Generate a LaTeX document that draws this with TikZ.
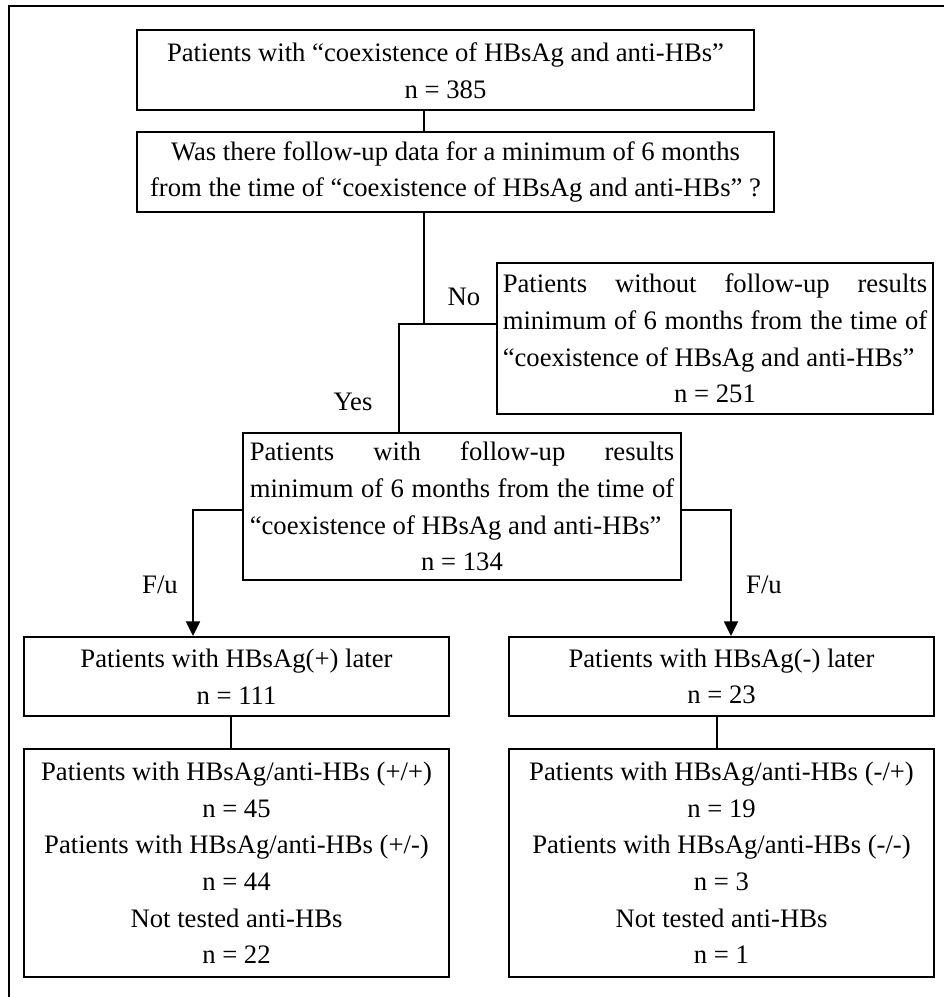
\documentclass[tikz,border=0pt]{standalone}
\usepackage{fontspec}
\setmainfont{Liberation Serif}
\usetikzlibrary{arrows.meta}

\newcommand{\spreadline}[1]{\makebox[\linewidth][s]{#1}}

\tikzset{
  flowbox/.style={draw, line width=0.9pt, inner sep=0pt, align=flush center,
    font=\fontsize{12}{16.5}\selectfont},
  fulltext/.style={text width=191pt, align=flush left},
  flowline/.style={line width=0.7pt},
  flowarrow/.style={line width=0.7pt, -{Triangle[length=6.6pt,width=6.3pt]}},
  flowlabel/.style={inner sep=0pt, font=\fontsize{12}{16.5}\selectfont}
}

\begin{document}
\begin{tikzpicture}[x=0.45pt,y=-0.45pt]
    \useasboundingbox (0,0) rectangle (944,997);
    \draw[line width=0.9pt] (9,997) -- (9,6) -- (944,6);

    \node[flowbox, minimum width=277.65pt, minimum height=36pt] (top) at (445.5,70.5)
        {Patients with “coexistence of HBsAg and anti-HBs”\\ n = 385};
    \node[flowbox, minimum width=286.65pt, minimum height=36pt] (ques) at (455.5,172)
        {Was there follow-up data for a minimum of 6 months\\ from the time of “coexistence of HBsAg and anti-HBs” ?};

    \node[flowbox, fulltext, minimum width=196.2pt, minimum height=67.95pt] (nofu) at (715,338.5)
        {\spreadline{Patients without follow-up results}\\
         \spreadline{minimum of 6 months from the time of}\\
         “coexistence of HBsAg and anti-HBs”\\
         \makebox[\linewidth]{n = 251}};
    \node[flowbox, fulltext, minimum width=197.1pt, minimum height=66.15pt] (fu) at (462,506.5)
        {\spreadline{Patients with follow-up results}\\
         \spreadline{minimum of 6 months from the time of}\\
         “coexistence of HBsAg and anti-HBs”\\
         \makebox[\linewidth]{n = 134}};

    \node[flowbox, minimum width=191.25pt, minimum height=35.55pt] (pos) at (236.5,676.5)
        {Patients with HBsAg(+) later\\ n = 111};
    \node[flowbox, minimum width=191.25pt, minimum height=35.55pt] (neg) at (721.5,676.5)
        {Patients with HBsAg(-) later\\ n = 23};

    \node[flowbox, minimum width=191.25pt, minimum height=102.6pt] (posres) at (236.5,863)
        {Patients with HBsAg/anti-HBs (+/+)\\ n = 45\\
         Patients with HBsAg/anti-HBs (+/-)\\ n = 44\\
         Not tested anti-HBs\\ n = 22};
    \node[flowbox, minimum width=191.25pt, minimum height=102.6pt] (negres) at (721.5,863)
        {Patients with HBsAg/anti-HBs (-/+)\\ n = 19\\
         Patients with HBsAg/anti-HBs (-/-)\\ n = 3\\
         Not tested anti-HBs\\ n = 1};

    \coordinate (split) at (424,324);
    \coordinate (yes) at (399,324);
    \coordinate (fuL) at (193,510);
    \coordinate (fuR) at (731,510);
    \coordinate (posdrop) at (231,730);
    \coordinate (negdrop) at (717,730);

    \draw[flowline] (top.south -| split) -- (ques.north -| split);
    \draw[flowline] (ques.south -| split) -- (split);
    \draw[flowline] (nofu.west |- split) -- (yes) -- (fu.north -| yes);
    \node[flowlabel] (nolab) at (464,297) {No};
    \node[flowlabel] (yeslab) at (353,402) {Yes};

    \draw[flowarrow] (fu.west |- fuL) -- (fuL) -- (pos.north -| fuL);
    \draw[flowarrow] (fu.east |- fuR) -- (fuR) -- (neg.north -| fuR);
    \node[flowlabel] (fulabL) at (160,585) {F/u};
    \node[flowlabel] (fulabR) at (764,585) {F/u};

    \draw[flowline] (pos.south -| posdrop) -- (posres.north -| posdrop);
    \draw[flowline] (neg.south -| negdrop) -- (negres.north -| negdrop);

\end{tikzpicture}
\end{document}
